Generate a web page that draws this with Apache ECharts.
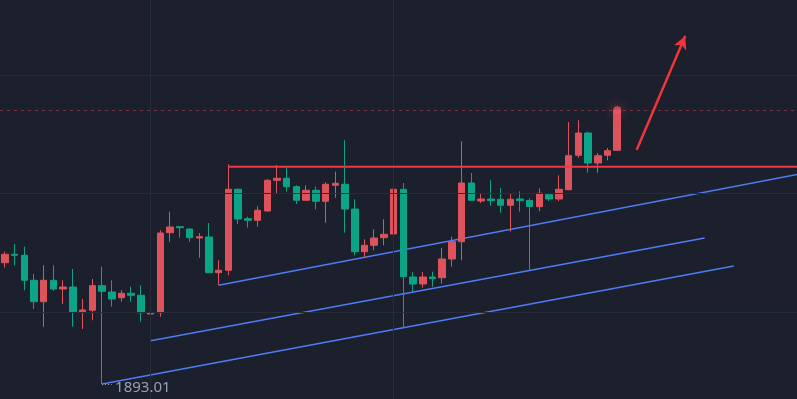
<!DOCTYPE html>
<html>
<head>
<meta charset="utf-8">
<script src="https://cdn.jsdelivr.net/npm/echarts@6/dist/echarts.min.js"></script>
<style>
  html, body { margin: 0; padding: 0; background: #1b202c; }
  #chart { width: 797px; height: 399px; }
</style>
</head>
<body>
<div id="chart"></div>
<script>
// slots on the x axis (64 candles + empty space on the right)
const categories = Array.from({ length: 82 }, (_, i) => String(i));

const opens = [
  1923.34, 1925.44, 1925.19, 1918.94, 1913.59, 1918.94, 1916.76, 1917.26, 1911.09, 1911.44,
  1917.59, 1916.01, 1914.59, 1915.69, 1915.19, 1910.51, 1910.84, 1930.84, 1932.34, 1931.76,
  1929.51, 1929.76, 1920.84, 1921.44, 1941.69, 1934.34, 1933.94, 1936.26, 1943.94, 1944.44,
  1942.34, 1938.94, 1941.44, 1938.69, 1942.69, 1942.94, 1936.76, 1926.09, 1927.69, 1929.59,
  1930.51, 1941.69, 1919.76, 1918.01, 1919.76, 1919.59, 1924.26, 1928.59, 1943.26, 1938.76,
  1939.26, 1939.19, 1937.69, 1939.26, 1938.89, 1937.34, 1940.34, 1939.26, 1941.59, 1950.19,
  1955.76, 1948.26, 1950.19, 1951.44
];
const closes = [
  1925.44, 1925.19, 1918.94, 1913.59, 1918.94, 1916.76, 1917.26, 1911.09, 1911.51, 1917.59,
  1916.19, 1914.26, 1915.69, 1915.19, 1910.84, 1910.84, 1930.76, 1932.26, 1932.09, 1929.59,
  1929.84, 1920.84, 1921.44, 1941.69, 1934.26, 1933.94, 1936.44, 1943.94, 1944.44, 1942.34,
  1938.94, 1941.44, 1938.69, 1942.94, 1943.19, 1936.76, 1926.09, 1927.69, 1929.51, 1930.44,
  1941.69, 1919.84, 1918.01, 1919.76, 1919.34, 1924.26, 1928.59, 1943.26, 1938.94, 1939.26,
  1938.84, 1937.69, 1939.19, 1938.84, 1937.39, 1940.69, 1939.26, 1941.69, 1950.09, 1955.76,
  1948.26, 1950.09, 1951.34, 1961.44
];
const lows = [
  1922.09, 1922.69, 1916.44, 1911.76, 1907.34, 1916.34, 1913.01, 1907.34, 1906.76, 1908.94,
  1893.01, 1912.34, 1913.59, 1913.59, 1908.59, 1903.84, 1909.84, 1928.59, 1929.59, 1928.59,
  1924.59, 1920.84, 1917.69, 1920.19, 1933.01, 1932.09, 1932.34, 1936.09, 1940.59, 1941.09,
  1938.01, 1938.94, 1936.69, 1933.34, 1939.59, 1930.84, 1925.19, 1924.69, 1926.44, 1927.69,
  1926.76, 1907.19, 1916.09, 1917.09, 1917.34, 1918.09, 1922.34, 1923.94, 1938.94, 1938.26,
  1937.59, 1935.84, 1931.09, 1936.09, 1921.59, 1936.19, 1938.76, 1938.69, 1941.44, 1949.59,
  1945.84, 1945.84, 1948.94, 1951.44
];
const highs = [
  1926.09, 1928.01, 1927.34, 1920.51, 1922.69, 1922.69, 1918.94, 1921.76, 1914.26, 1919.26,
  1922.34, 1918.94, 1916.44, 1917.34, 1917.69, 1913.01, 1931.44, 1936.09, 1932.34, 1932.01,
  1930.76, 1933.26, 1923.94, 1947.94, 1941.94, 1934.84, 1937.44, 1944.19, 1947.76, 1947.19,
  1942.69, 1942.69, 1942.34, 1943.44, 1946.09, 1953.94, 1939.19, 1929.19, 1931.69, 1934.19,
  1942.94, 1943.26, 1921.01, 1921.01, 1921.09, 1927.01, 1929.84, 1953.69, 1945.76, 1940.51,
  1943.94, 1942.01, 1940.51, 1941.19, 1939.39, 1941.94, 1940.69, 1945.19, 1958.51, 1958.94,
  1956.09, 1950.76, 1952.01, 1961.44
];

// drawn objects
const lowPoint = [10, 1893.01];
const channelLow = [[10, 1893.01], [75, 1922.51]];
const channelMid = [[15, 1903.84], [72, 1929.51]];
const channelTop = [[22.07, 1917.69], [82, 1945.64]];
const resistanceLine = [[22.7, 1947.34], [82, 1947.34]];
const arrow = [[64.67, 1951.51], [70.2, 1980.01]];
const lastPrice = 1961.44;

// faint background grid
const gridPrices = [1911.01, 1940.64, 1970.26];
const gridSlots = [15, 40];

const yMin = 1889.26;
const yMax = 1989.01;

const candles = opens.map((o, i) => [o, closes[i], lows[i], highs[i]]);

const chart = echarts.init(document.getElementById('chart'));

const drawnLine = (name, pts, color, width, z) => ({
  name: name,
  type: 'line',
  data: pts,
  showSymbol: false,
  silent: true,
  z: z,
  lineStyle: { color: color, width: width }
});

chart.setOption({
  backgroundColor: '#1b202c',
  animation: false,
  grid: { left: -1, right: -1, top: 0, bottom: 0 },
  xAxis: {
    type: 'category',
    data: categories,
    boundaryGap: true,
    show: false
  },
  yAxis: {
    type: 'value',
    min: yMin,
    max: yMax,
    show: false
  },
  series: [
    {
      name: 'grid',
      type: 'line',
      data: [],
      z: 1,
      markLine: {
        silent: true,
        symbol: ['none', 'none'],
        label: { show: false },
        lineStyle: { color: '#262c39', width: 1, type: 'solid' },
        data: gridPrices.map(p => ({ yAxis: p }))
          .concat(gridSlots.map(s => ({ xAxis: s })))
      }
    },
    {
      name: 'last',
      type: 'line',
      data: [],
      z: 2,
      markLine: {
        silent: true,
        symbol: ['none', 'none'],
        label: { show: false },
        lineStyle: { color: 'rgba(214,72,84,0.5)', width: 1, type: [3, 4] },
        data: [{ yAxis: lastPrice }]
      }
    },
    {
      name: 'K',
      type: 'candlestick',
      data: candles,
      barWidth: 7,
      z: 4,
      itemStyle: {
        color: '#de525c',
        color0: '#0ca486',
        borderColor: '#de525c',
        borderColor0: '#0ca486',
        borderWidth: 1
      },
      markPoint: {
        symbol: 'circle',
        symbolSize: 0,
        data: [{
          coord: lowPoint,
          label: {
            show: true,
            position: 'right',
            distance: 0,
            offset: [13, 4],
            formatter: '1893.01',
            color: '#9aa0ab',
            fontSize: 15,
            fontFamily: 'Noto Sans'
          }
        }]
      },
      markLine: {
        silent: true,
        symbol: ['none', 'none'],
        label: { show: false },
        lineStyle: { color: '#9aa0ab', width: 1, type: [1, 2] },
        data: [[{ coord: lowPoint }, { coord: [10.9, lowPoint[1]] }]]
      }
    },
    drawnLine('channelLow', channelLow, '#4f7cf5', 1.5, 3),
    drawnLine('channelMid', channelMid, '#4f7cf5', 1.5, 3),
    drawnLine('channelTop', channelTop, '#4f7cf5', 1.5, 3),
    drawnLine('resistance', resistanceLine, '#f23645', 2, 5),
    {
      name: 'arrow',
      type: 'line',
      data: [],
      z: 5,
      markLine: {
        silent: true,
        symbol: ['none', 'arrow'],
        symbolSize: [10, 13],
        label: { show: false },
        lineStyle: { color: '#f0353a', width: 2.5, type: 'solid' },
        data: [[{ coord: arrow[0] }, { coord: arrow[1] }]]
      }
    },
    {
      name: 'dot',
      type: 'scatter',
      data: [[63, lastPrice]],
      symbolSize: 8,
      z: 6,
      silent: true,
      itemStyle: {
        color: 'rgba(236,90,100,0.95)',
        shadowBlur: 12,
        shadowColor: 'rgba(240,70,85,0.9)'
      }
    }
  ]
});
</script>
</body>
</html>
